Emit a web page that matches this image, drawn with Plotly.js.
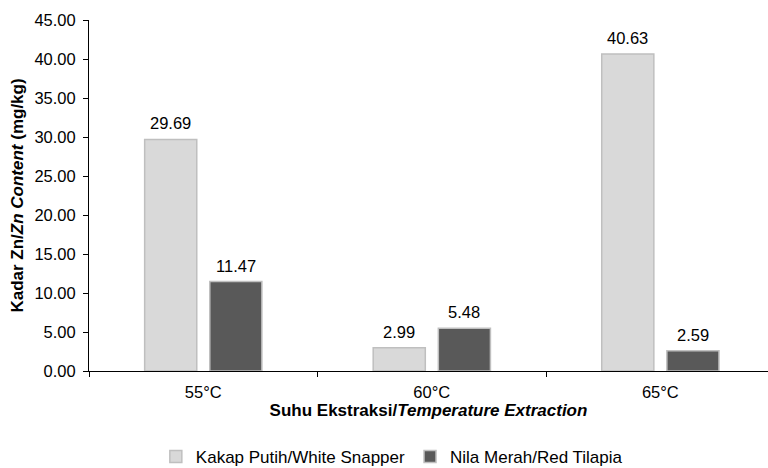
<!DOCTYPE html>
<html>
<head>
<meta charset="utf-8">
<script src="https://cdn.plot.ly/plotly-3.0.1.min.js"></script>
<style>html,body{margin:0;padding:0;background:#fff;}#chart{width:768px;height:468px;}</style>
</head>
<body>
<div id="chart"></div>
<script>
const categories = ["55°C", "60°C", "65°C"];
const seriesNames = ["Kakap Putih/White Snapper", "Nila Merah/Red Tilapia"];
const whiteSnapper = [29.69, 2.99, 40.63];
const redTilapia = [11.47, 5.48, 2.59];
const yTickValues = [0, 5, 10, 15, 20, 25, 30, 35, 40, 45];

const FONT = "Liberation Sans, Arial, sans-serif";
const seriesData = [whiteSnapper, redTilapia];
const fills = ["#d9d9d9", "#595959"];

const traces = seriesData.map((vals, i) => ({
  type: "bar", name: seriesNames[i], x: categories, y: vals,
  marker: {color: fills[i], line: {color: "#bfbfbf", width: 1.5}},
  hoverinfo: "skip"
}));

// value labels sitting above each bar (offset to each bar of the group)
const groupShift = [-32.5, 32.5];
const annotations = [];
seriesData.forEach((vals, i) => {
  vals.forEach((v, j) => {
    annotations.push({
      x: categories[j], y: v, xref: "x", yref: "y",
      text: v.toFixed(2), showarrow: false,
      xanchor: "center", yanchor: "bottom",
      xshift: groupShift[i], yshift: 5,
      font: {family: FONT, size: 16.5, color: "#000"}
    });
  });
});

const layout = {
  width: 768, height: 468,
  margin: {l: 89, r: 0, t: 20, b: 97, autoexpand: false},
  paper_bgcolor: "#fff", plot_bgcolor: "#fff",
  font: {family: FONT, size: 16.5, color: "#000"},
  barmode: "group", bargap: 0.43, bargroupgap: 0.2,
  showlegend: true,
  legend: {orientation: "h", x: 0.446, xanchor: "center", y: -0.245, yanchor: "middle",
           font: {family: FONT, size: 17, color: "#000"}, itemwidth: 30, tracegroupgap: 0},
  annotations: annotations,
  xaxis: {
    type: "category", range: [-0.5, 2.471], automargin: false,
    showline: true, linecolor: "#000", linewidth: 1,
    ticks: "outside", ticklen: 5, tickcolor: "#000", tickson: "boundaries",
    ticklabelstandoff: 6,
    showgrid: false, zeroline: false,
    tickfont: {family: FONT, size: 16.5, color: "#000"},
    title: {text: "<b>Suhu Ekstraksi/<i>Temperature Extraction</i></b>", font: {family: FONT, size: 17, color: "#000"}, standoff: 2}
  },
  yaxis: {
    range: [0, 45], tickvals: yTickValues, tickformat: ".2f", automargin: false,
    showline: true, linecolor: "#000", linewidth: 1,
    ticks: "outside", ticklen: 5, tickcolor: "#000",
    ticklabelstandoff: 4,
    showgrid: false, zeroline: false,
    tickfont: {family: FONT, size: 16.5, color: "#000"},
    title: {text: "<b>Kadar Zn/<i>Zn Content</i> (mg/kg)</b>", font: {family: FONT, size: 17, color: "#000"}, standoff: 6}
  }
};

Plotly.newPlot("chart", traces, layout, {displayModeBar: false, staticPlot: true});
</script>
</body>
</html>
